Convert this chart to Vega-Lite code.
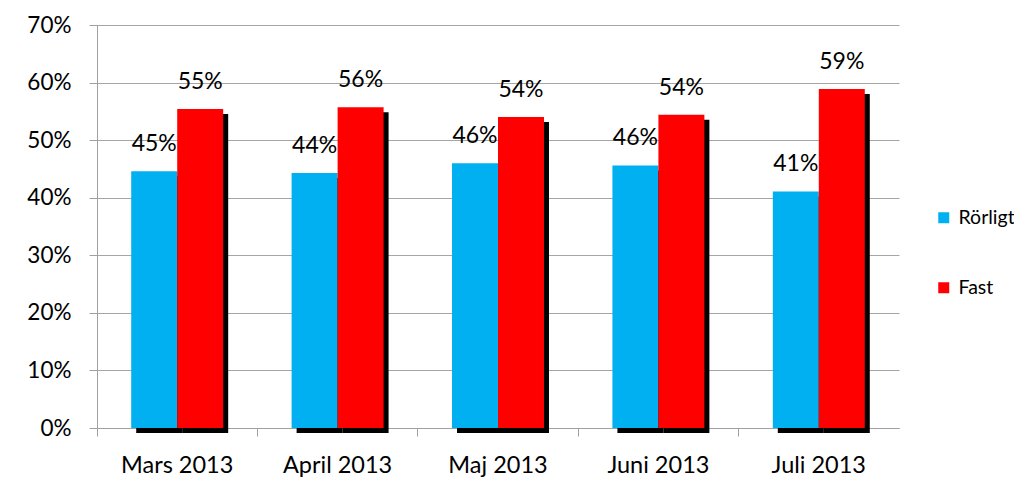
{
  "$schema": "https://vega.github.io/schema/vega-lite/v6.json",
  "autosize": {"type": "none"},
  "width": 802,
  "height": 403,
  "padding": {"left": 97, "top": 25, "right": 115, "bottom": 64},
  "background": "white",
  "config": {
    "view": {"stroke": null},
    "font": "Lato",
    "axis": {"labelFont": "Lato", "labelColor": "black", "domainColor": "#a0a0a0", "tickColor": "#a0a0a0", "gridColor": "#a6a6a6"}
  },
  "data": {
    "values": [
      {"month": "Mars 2013", "type": "Rörligt", "value": 0.446},
      {"month": "Mars 2013", "type": "Fast", "value": 0.554},
      {"month": "April 2013", "type": "Rörligt", "value": 0.443},
      {"month": "April 2013", "type": "Fast", "value": 0.557},
      {"month": "Maj 2013", "type": "Rörligt", "value": 0.460},
      {"month": "Maj 2013", "type": "Fast", "value": 0.540},
      {"month": "Juni 2013", "type": "Rörligt", "value": 0.456},
      {"month": "Juni 2013", "type": "Fast", "value": 0.544},
      {"month": "Juli 2013", "type": "Rörligt", "value": 0.411},
      {"month": "Juli 2013", "type": "Fast", "value": 0.589}
    ]
  },
  "encoding": {
    "x": {
      "field": "month", "type": "nominal", "sort": null,
      "scale": {"type": "band", "paddingInner": 0, "paddingOuter": 0},
      "axis": {"title": null, "labelAngle": 0, "labelFontSize": 23.5, "labelPadding": 17, "tickSize": 8, "bandPosition": 0, "grid": false}
    },
    "y": {
      "field": "value", "type": "quantitative",
      "scale": {"domain": [0, 0.7], "nice": false},
      "axis": {"title": null, "format": ".0%", "values": [0, 0.1, 0.2, 0.3, 0.4, 0.5, 0.6, 0.7], "labelFontSize": 22.5, "labelPadding": 18, "tickSize": 8, "grid": true, "domain": true}
    }
  },
  "layer": [
    {
      "mark": {"type": "bar", "color": "black", "yOffset": 5, "y2Offset": 5},
      "encoding": {
        "xOffset": {
          "field": "type", "type": "nominal", "sort": ["Rörligt", "Fast"],
          "scale": {"type": "band", "paddingInner": 0, "paddingOuter": 0.744, "range": [5, 165.4]}
        }
      }
    },
    {
      "mark": {"type": "bar"},
      "encoding": {
        "xOffset": {
          "field": "type", "type": "nominal", "sort": ["Rörligt", "Fast"],
          "scale": {"type": "band", "paddingInner": 0, "paddingOuter": 0.744}
        },
        "color": {
          "field": "type", "type": "nominal", "sort": ["Rörligt", "Fast"],
          "scale": {"domain": ["Rörligt", "Fast"], "range": ["#00B0F0", "#FF0000"]},
          "legend": {"title": null, "orient": "none", "legendX": 837, "legendY": 183, "symbolType": "square", "symbolSize": 121, "symbolStrokeWidth": 0, "symbolOpacity": 1, "labelFontSize": 19.5, "labelFont": "Lato", "labelColor": "black", "labelOffset": 5, "rowPadding": 49, "padding": 0}
        }
      }
    },
    {
      "mark": {"type": "text", "baseline": "middle", "dy": -27, "fontSize": 23, "font": "Lato", "color": "black"},
      "encoding": {
        "xOffset": {
          "field": "type", "type": "nominal", "sort": ["Rörligt", "Fast"],
          "scale": {"type": "band", "paddingInner": 0, "paddingOuter": 0.744}
        },
        "text": {"field": "value", "type": "quantitative", "format": ".0%"}
      }
    }
  ],
  "resolve": {"scale": {"xOffset": "independent"}}
}
